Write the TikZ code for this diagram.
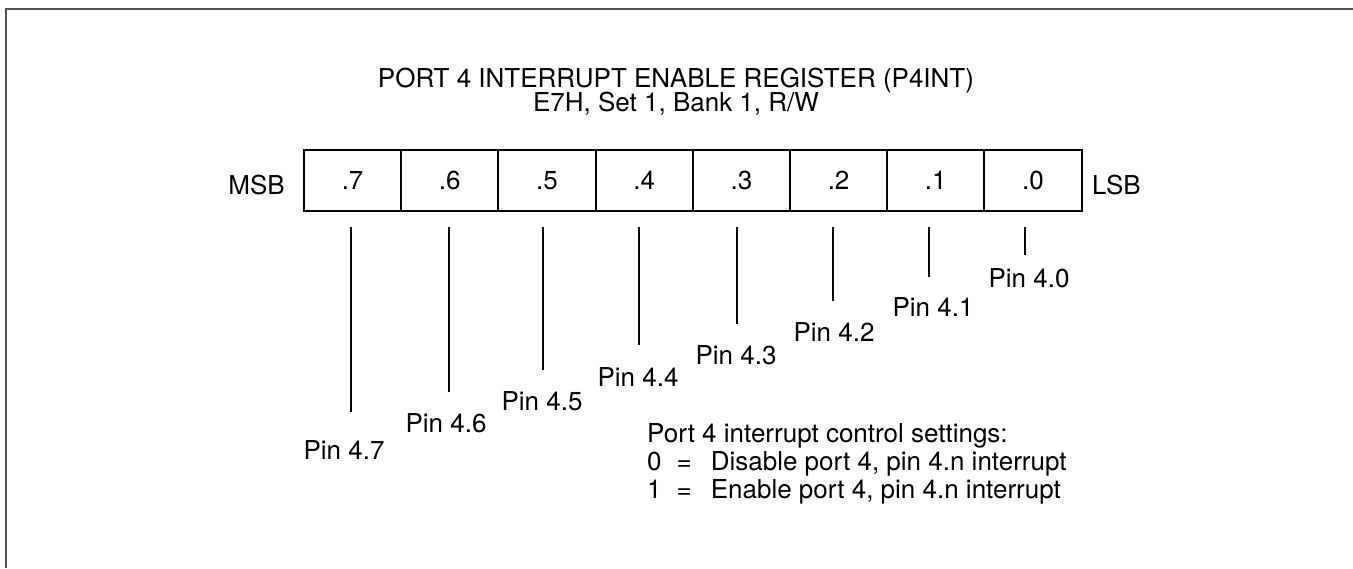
\documentclass[tikz,border=0pt]{standalone}
\usepackage{fontspec}
\setmainfont{TeX Gyre Heros}
\begin{document}
\begin{tikzpicture}[x=1pt,y=-1pt,
  txt/.style={inner sep=0pt,font=\fontsize{26}{30}\selectfont},
  cell/.style={draw,line width=2pt,minimum width=97.2pt,minimum height=61pt,
    inner sep=0pt,anchor=north west,font=\fontsize{26}{30}\selectfont},
  lead/.style={line width=2pt},
  frame/.style={draw=black!68,line width=2.2pt}]
\useasboundingbox (0,0) rectangle (1353,568);
% open frame along the top and left edges
\draw[frame] (1353,9) -- (6,9) -- (6,568);

% titles
\node[txt] (title) at (676,80.5) {PORT 4 INTERRUPT ENABLE REGISTER (P4INT)};
\node[txt] (addr) at (676,104) {E7H, Set 1, Bank 1, R/W};

% register cells, bit 7 on the left
\foreach \b [count=\i from 0] in {7,6,5,4,3,2,1,0}
  \node[cell] (c\b) at (303+97.2*\i,149) {.\b};
\node[txt,anchor=east] (msb) at (285,185) {MSB};
\node[txt,anchor=west] (lsb) at (1092,185) {LSB};

% leader lines and pin labels
\foreach \b/\lx/\ly/\ex/\ey/\px/\py in {
  7/350.7/227/350.7/412/344/450,
  6/449.3/227/449.3/392/446/423,
  5/542.7/227/542.7/370/542/401,
  4/638.7/227/638.7/345/638/377,
  3/737.3/227/737.3/324/736/355,
  2/833.3/227/833.3/301/834/332,
  1/929.3/227/929.3/277/933/307.5,
  0/1025.3/227/1025.3/255/1029/278.5}{
  \coordinate (t\b) at (\lx,\ly);
  \coordinate (e\b) at (\ex,\ey);
  \draw[lead] (t\b) -- (e\b);
  \node[txt] (p\b) at (\px,\py) {Pin 4.\b};
}

% legend
\node[txt,anchor=base west] (leg0) at (647,442.7) {Port 4 interrupt control settings:};
\node[txt,anchor=base west] (leg1) at (647,470.5) {0\hspace{15pt}=\hspace{19pt}Disable port 4, pin 4.n interrupt};
\node[txt,anchor=base west] (leg2) at (647,498) {1\hspace{15pt}=\hspace{19pt}Enable port 4, pin 4.n interrupt};
\end{tikzpicture}
\end{document}
